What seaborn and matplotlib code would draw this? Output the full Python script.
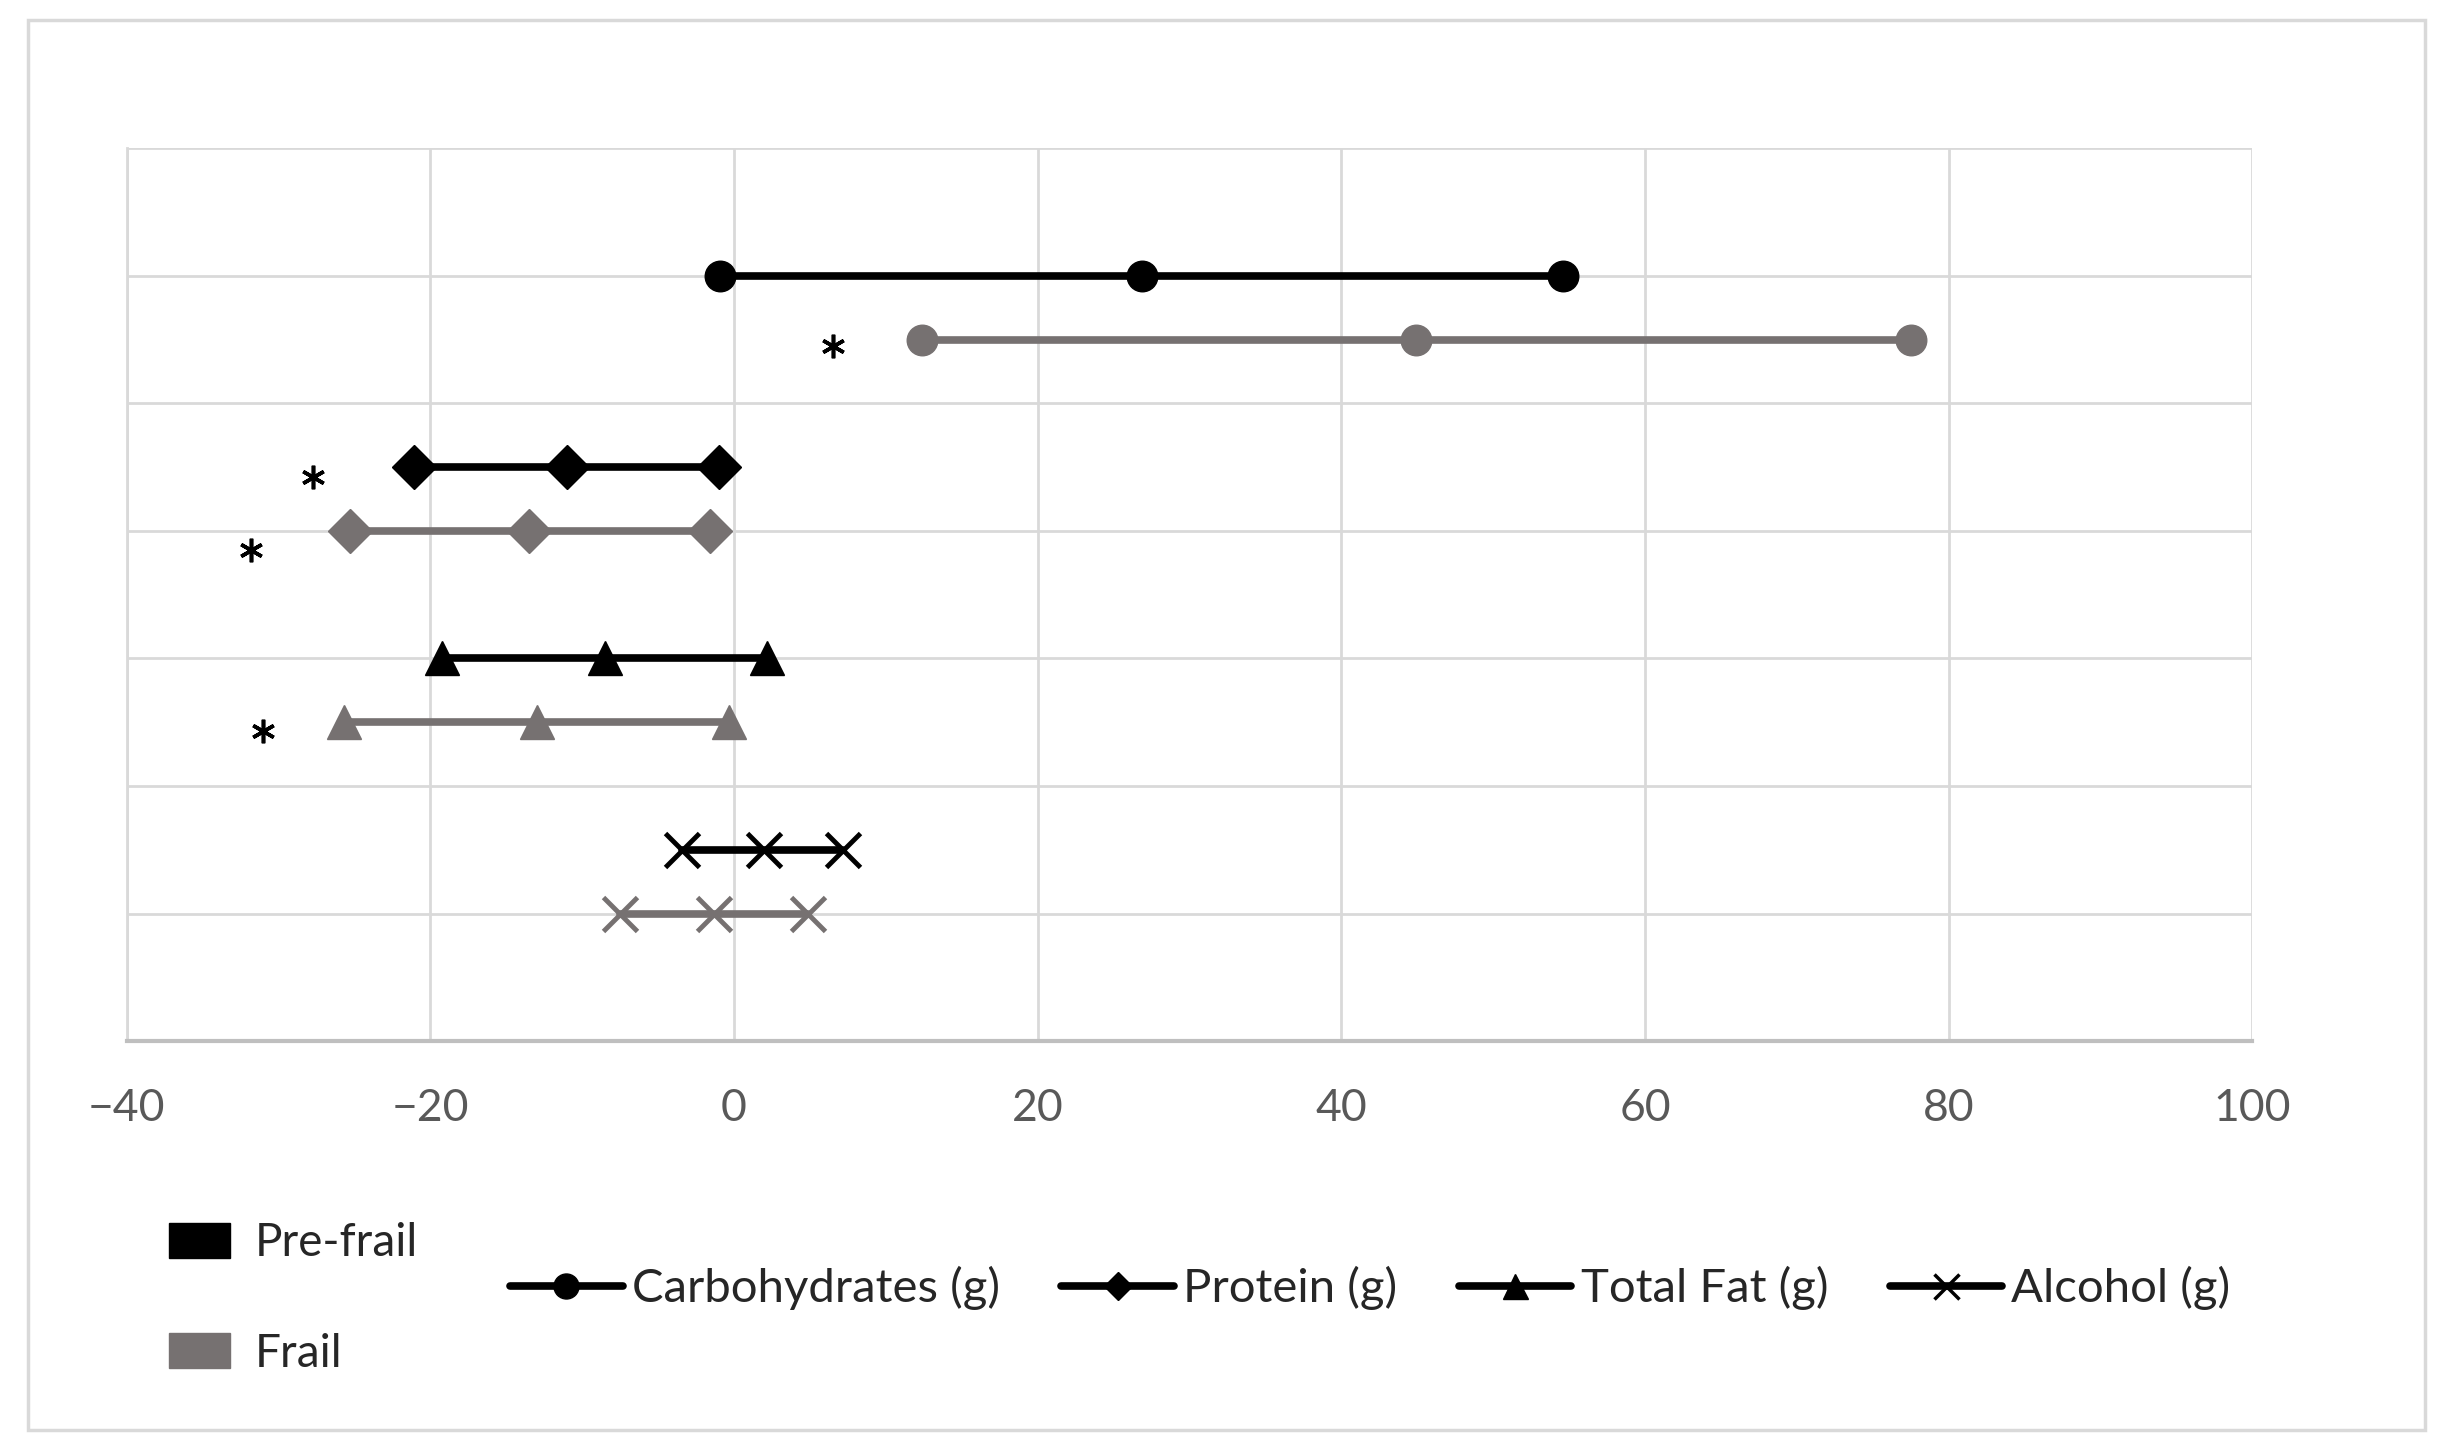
import pandas as pd
import seaborn as sns
import matplotlib.pyplot as plt
from matplotlib.lines import Line2D
from matplotlib.patches import Patch, Rectangle

sns.set_style("white")
plt.rcParams['font.family'] = ['Lato', 'DejaVu Sans']

# data: low / mid / high for each nutrient and group
nutrients = ['Carbohydrates (g)', 'Protein (g)', 'Total Fat (g)', 'Alcohol (g)']
markers = ['o', 'D', '^', 'x']
prefrail_vals = [[-0.9, 26.9, 54.6], [-21.1, -11.0, -1.0], [-19.2, -8.5, 2.2], [-3.4, 2.0, 7.2]]
frail_vals = [[12.4, 44.9, 77.5], [-25.3, -13.5, -1.6], [-25.7, -13.0, -0.3], [-7.5, -1.3, 4.9]]
prefrail_rows = [6, 4.5, 3, 1.5]
frail_rows = [5.5, 4, 2.5, 1]
# asterisks (x, y)
star_x = [6.5, -27.7, -31.8, -31.0]
star_y = [5.45, 4.42, 3.85, 2.43]

black = '#000000'
grey = '#767171'

rows = []
for i, n in enumerate(nutrients):
    for v in prefrail_vals[i]:
        rows.append({'nutrient': n, 'group': 'Pre-frail', 'x': v, 'y': prefrail_rows[i]})
    for v in frail_vals[i]:
        rows.append({'nutrient': n, 'group': 'Frail', 'x': v, 'y': frail_rows[i]})
df = pd.DataFrame(rows)

fig = plt.figure(figsize=(24.49, 14.54), dpi=100)
ax = fig.add_axes([0.0517, 0.284, 0.868, 0.614])

for i, n in enumerate(nutrients):
    for g, c in [('Pre-frail', black), ('Frail', grey)]:
        sub = df[(df.nutrient == n) & (df.group == g)]
        mk = markers[i]
        sns.lineplot(data=sub, x='x', y='y', ax=ax, color=c, lw=5.5, sort=False,
                     marker=mk, markersize=22 if mk == 'o' else (22 if mk == 'D' else 25),
                     markeredgecolor=c, markerfacecolor=c,
                     markeredgewidth=3.5 if mk == 'x' else 1, zorder=3)

# significance asterisks
ax.plot(star_x, star_y, ls='none', marker=(6, 2, 0), ms=17, mew=2.6, color='black')

ax.set_xlim(-40, 100)
ax.set_ylim(0, 7)
ax.set_xticks(range(-40, 101, 20))
ax.set_yticks(range(0, 8))
ax.set_yticklabels([])
ax.set_xlabel('')
ax.set_ylabel('')
ax.grid(True, color='#d9d9d9', lw=2)
ax.set_axisbelow(True)
for s in ['top', 'right']:
    ax.spines[s].set_visible(False)
ax.spines['left'].set_color('#d9d9d9')
ax.spines['left'].set_linewidth(2)
ax.spines['bottom'].set_color('#bfbfbf')
ax.spines['bottom'].set_linewidth(3)
ax.tick_params(axis='x', length=0, pad=34, labelsize=32, labelcolor='#595959')
ax.tick_params(axis='y', length=0)

# group legend
grp_handles = [Patch(color=black, label='Pre-frail'), Patch(color=grey, label='Frail')]
fig.legend(handles=grp_handles, loc='center left', bbox_to_anchor=(0.052, 0.107),
           frameon=False, fontsize=33, handlelength=1.33, handleheight=0.8,
           labelspacing=1.5, handletextpad=0.55)

# nutrient legend
nut_handles = [Line2D([0], [0], color='black', lw=5.5, marker=m,
                      markersize=18 if m == 'o' else (14 if m == 'D' else 18),
                      markeredgewidth=2.5 if m == 'x' else 1,
                      label=n) for n, m in zip(nutrients, markers)]
fig.legend(handles=nut_handles, loc='center left', bbox_to_anchor=(0.191, 0.114), ncol=4,
           frameon=False, fontsize=34, handlelength=2.38, handletextpad=0.2, columnspacing=1.3)

fig.patches.append(Rectangle((0.0115, 0.0165), 0.9785, 0.970, transform=fig.transFigure,
                             fill=False, edgecolor='#d9d9d9', lw=2.5))

fig.savefig('out.png', dpi=100)
